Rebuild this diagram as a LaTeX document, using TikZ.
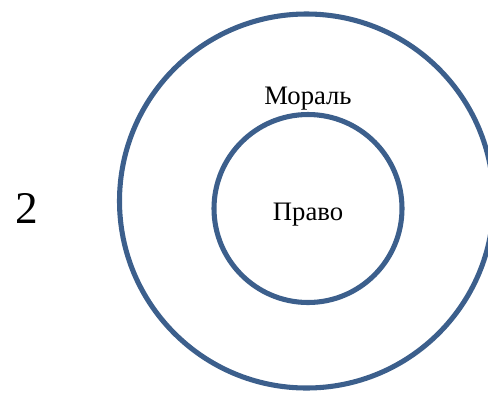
\documentclass[tikz,border=0pt]{standalone}
\usepackage{fontspec}
\setmainfont{Liberation Serif}
\definecolor{ringblue}{RGB}{60,95,140}
\begin{document}
\begin{tikzpicture}[x=0.75pt,y=-0.75pt,
  ring/.style={draw=ringblue,line width=3.8pt,circle},
  lbl/.style={inner sep=0pt,font=\fontsize{20}{24}\selectfont}]
\useasboundingbox (0,0) rectangle (488,393);
\begin{scope}
\clip (0,0) rectangle (488,393);
\draw[ring] (306.5,201) circle (187);
\draw[ring] (308,208.5) circle (94);
\end{scope}
\node[lbl,anchor=base] (moral) at (308,104) {Мораль};
\node[lbl,anchor=base] (pravo) at (308,220) {Право};
\node[inner sep=0pt,anchor=base,font=\fontsize{34}{40}\selectfont] (num) at (27,223) {2};
\end{tikzpicture}
\end{document}
